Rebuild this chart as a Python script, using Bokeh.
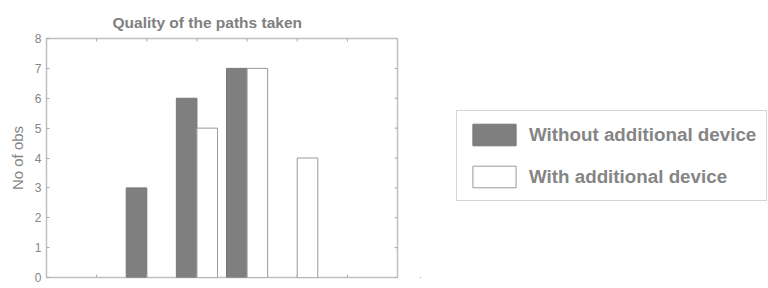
from bokeh.plotting import figure
from bokeh.layouts import row
from bokeh.models import (Range1d, FixedTicker, Legend, LegendItem, Label,
                          ColumnDataSource, CDSView, BooleanFilter)
from bokeh.embed import file_html
from bokeh.resources import INLINE

# ---- data ----
categories = [0, 1, 2, 3]
x_tick_labels = ["0", "1", "2", "3"]
x_ticks = [-1, 0, 1, 2, 3, 4]
y_ticks = [0, 1, 2, 3, 4, 5, 6, 7, 8]
without_device = [3, 6, 7, 0]
with_device = [0, 5, 7, 4]
series_names = ["Without additional device", "With additional device"]
title_text = "Quality of the paths taken"
y_label = "No of obs"
x_min, x_max = -2, 5
y_min, y_max = 0, 8

GRAY_TXT = "#858585"
TICK = "#aaaaaa"
FONT = "Liberation Sans"
FILL_A = dict(fill_color="#7f7f7f", line_color="#777777", line_width=1)
FILL_B = dict(fill_color="white", line_color="#9a9a9a", line_width=1)

p = figure(width=420, height=288, output_backend="svg", toolbar_location=None,
           x_range=Range1d(x_min, x_max), y_range=Range1d(y_min, y_max),
           min_border_left=46, min_border_right=23, min_border_top=38,
           min_border_bottom=11)
p.background_fill_color = "white"
p.border_fill_color = "white"
p.grid.visible = False
p.outline_line_color = "#c0c0c0"
p.outline_line_width = 1.5

# title
p.title.text = title_text
p.title.text_font = FONT
p.title.text_font_size = "15.5px"
p.title.text_font_style = "bold"
p.title.text_color = "#808080"
p.title.align = "left"
p.title.offset = 66
p.title.standoff = 15

dodge = 0.205
bw = 0.41
src_a = ColumnDataSource(dict(x=[c - dodge for c in categories], top=without_device))
src_b = ColumnDataSource(dict(x=[c + dodge for c in categories], top=with_device))
view_a = CDSView(filter=BooleanFilter([v > 0 for v in without_device]))
view_b = CDSView(filter=BooleanFilter([v > 0 for v in with_device]))
r1 = p.vbar(x="x", top="top", width=bw, bottom=0, source=src_a, view=view_a, **FILL_A)
r2 = p.vbar(x="x", top="top", width=bw, bottom=0, source=src_b, view=view_b, **FILL_B)

# inner ticks on right, top and bottom edges (clipped half of a dash marker)
p.scatter(x=[x_max] * len(y_ticks), y=y_ticks, marker="dash", size=6,
          line_color=TICK, line_width=1)
p.scatter(x=x_ticks, y=[y_max] * len(x_ticks), marker="dash", angle=1.5708, size=6,
          line_color=TICK, line_width=1)
p.scatter(x=x_ticks, y=[y_min] * len(x_ticks), marker="dash", angle=1.5708, size=6,
          line_color=TICK, line_width=1)

# y axis
ya = p.yaxis[0]
ya.ticker = FixedTicker(ticks=y_ticks)
ya.axis_line_color = None
ya.major_tick_in = 3
ya.major_tick_out = 0
ya.minor_tick_line_color = None
ya.major_tick_line_color = TICK
ya.major_label_text_font = FONT
ya.major_label_text_font_size = "12px"
ya.major_label_text_color = GRAY_TXT
ya.major_label_standoff = 5
ya.axis_label = y_label
ya.axis_label_text_font = FONT
ya.axis_label_text_font_size = "15px"
ya.axis_label_text_font_style = "normal"
ya.axis_label_text_color = GRAY_TXT
ya.axis_label_standoff = 6

p.xaxis.visible = False

# x tick labels (partly below the bottom edge, as in the original)
for c, t in zip(categories, x_tick_labels):
    p.add_layout(Label(x=c, y=y_min, y_offset=-4, text=t, text_align="center",
                       text_baseline="top", text_font=FONT, text_font_size="12px",
                       text_color=GRAY_TXT))

# ---- legend panel (its glyphs reuse the bar sources, kept out of view) ----
q = figure(width=348, height=288, output_backend="svg", toolbar_location=None,
           x_axis_location=None, y_axis_location=None,
           x_range=Range1d(100, 101), y_range=Range1d(100, 101),
           min_border=0)
q.outline_line_color = None
q.grid.visible = False
q.background_fill_color = "white"
q.border_fill_color = "white"
la = q.vbar(x="x", top="top", width=bw, bottom=0, source=src_a, view=view_a, **FILL_A)
lb = q.vbar(x="x", top="top", width=bw, bottom=0, source=src_b, view=view_b, **FILL_B)

legend = Legend(items=[LegendItem(label=series_names[0], renderers=[la]),
                       LegendItem(label=series_names[1], renderers=[lb])],
                location=(36, 76))
legend.label_text_font = FONT
legend.label_text_font_size = "18.8px"
legend.label_text_font_style = "bold"
legend.label_text_color = GRAY_TXT
legend.glyph_width = 54
legend.glyph_height = 27
legend.label_standoff = 8
legend.spacing = 15
legend.padding = 10
legend.margin = 0
legend.border_line_color = "#aaaaaa"
legend.border_line_width = 1.5
legend.background_fill_color = "white"
legend.background_fill_alpha = 1
q.add_layout(legend, "center")

layout = row(p, q)
open("out.html", "w").write(file_html(layout, INLINE))
